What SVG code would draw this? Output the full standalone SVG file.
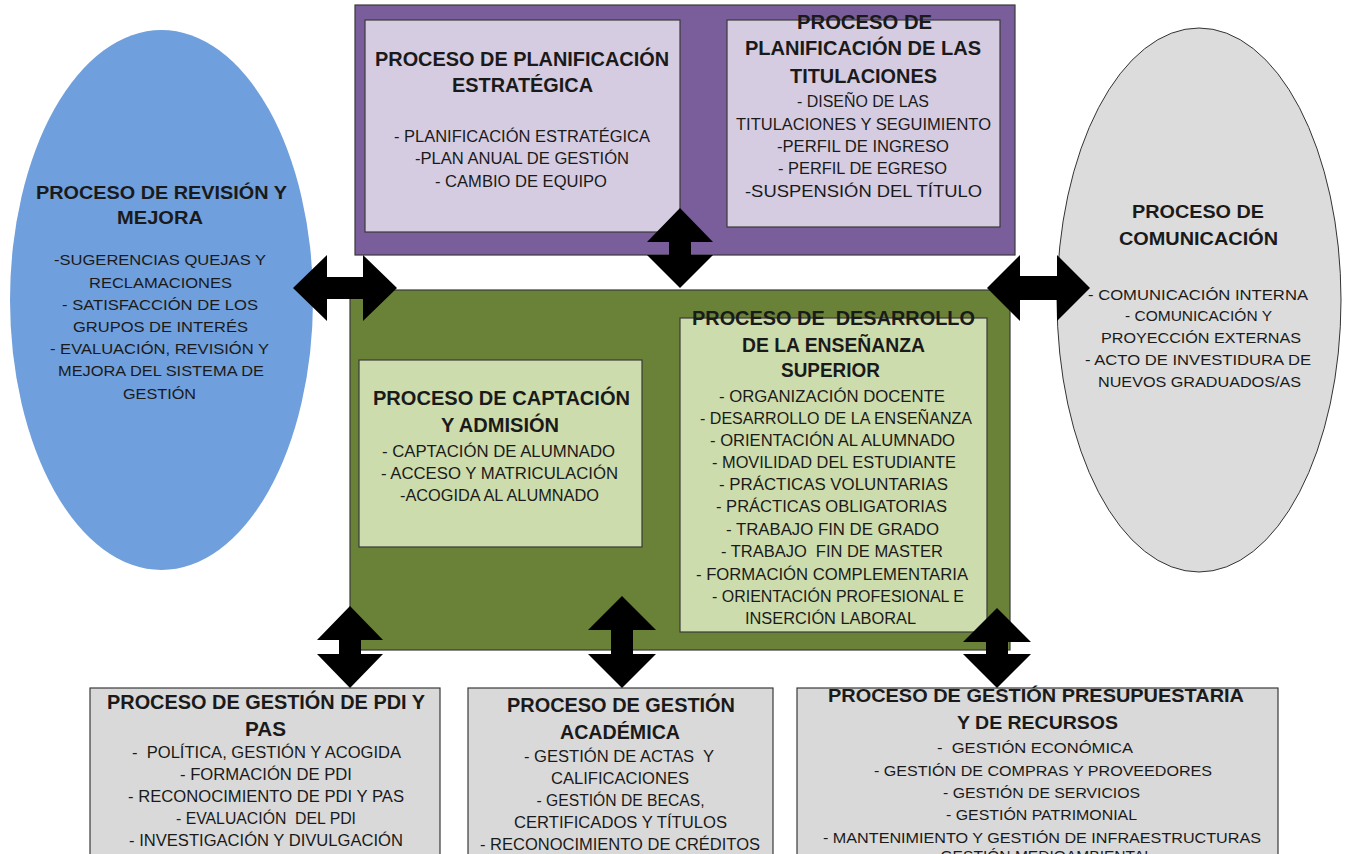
<svg xmlns="http://www.w3.org/2000/svg" width="1345" height="854" viewBox="0 0 1345 854">
<style>
.t{font-family:"Liberation Sans Narrow","Liberation Sans",Arial,sans-serif;fill:#1a1a1a;text-anchor:middle}
.nb{font-size:20px;font-weight:bold}
.nr{font-size:16px}
.ab{font-family:"Liberation Sans",Arial,sans-serif;font-size:18px;font-weight:bold}
.ar{font-family:"Liberation Sans",Arial,sans-serif;font-size:15px}
.box{stroke:#3a3a3a;stroke-width:1.2}
.arrow{fill:#000}
</style>
<rect width="1345" height="854" fill="#ffffff"/>

<g id="revision">
<ellipse cx="161.5" cy="300" rx="151.5" ry="270" fill="#6f9fdc"/>
<text class="t ab" x="161.5" y="198.5" textLength="251" lengthAdjust="spacingAndGlyphs">PROCESO DE REVISIÓN Y</text>
<text class="t ab" x="160" y="223.5" textLength="86" lengthAdjust="spacingAndGlyphs">MEJORA</text>
<text class="t ar" x="160" y="264.5" textLength="212" lengthAdjust="spacingAndGlyphs">-SUGERENCIAS QUEJAS Y</text>
<text class="t ar" x="160.5" y="287.5" textLength="143" lengthAdjust="spacingAndGlyphs">RECLAMACIONES</text>
<text class="t ar" x="160" y="309.5" textLength="196" lengthAdjust="spacingAndGlyphs">- SATISFACCIÓN DE LOS</text>
<text class="t ar" x="160.5" y="331.5" textLength="175" lengthAdjust="spacingAndGlyphs">GRUPOS DE INTERÉS</text>
<text class="t ar" x="159.5" y="353.5" textLength="219" lengthAdjust="spacingAndGlyphs">- EVALUACIÓN, REVISIÓN Y</text>
<text class="t ar" x="161" y="375.5" textLength="206" lengthAdjust="spacingAndGlyphs">MEJORA DEL SISTEMA DE</text>
<text class="t ar" x="159.5" y="398.5" textLength="73" lengthAdjust="spacingAndGlyphs">GESTIÓN</text>
</g>

<g id="comunicacion">
<ellipse cx="1199" cy="300" rx="142" ry="272" fill="#dcdcdc" stroke="#333" stroke-width="1"/>
<text class="t ab" x="1198" y="217.5" textLength="132" lengthAdjust="spacingAndGlyphs">PROCESO DE</text>
<text class="t ab" x="1198.5" y="244.5" textLength="159" lengthAdjust="spacingAndGlyphs">COMUNICACIÓN</text>
<text class="t ar" x="1198" y="299.5" textLength="220" lengthAdjust="spacingAndGlyphs">- COMUNICACIÓN INTERNA</text>
<text class="t ar" x="1198.5" y="320.5" textLength="147" lengthAdjust="spacingAndGlyphs">- COMUNICACIÓN Y</text>
<text class="t ar" x="1201" y="342.5" textLength="200" lengthAdjust="spacingAndGlyphs">PROYECCIÓN EXTERNAS</text>
<text class="t ar" x="1198" y="364.5" textLength="226" lengthAdjust="spacingAndGlyphs">- ACTO DE INVESTIDURA DE</text>
<text class="t ar" x="1199.5" y="386.5" textLength="203" lengthAdjust="spacingAndGlyphs">NUEVOS GRADUADOS/AS</text>
</g>

<g id="estrategicos">
<rect class="box" x="355" y="5" width="660" height="250" fill="#7a5e9b"/>
</g>

<g id="planificacion-estrategica">
<rect class="box" x="365" y="20" width="315" height="212" fill="#d5cce1"/>
<text class="t nb" x="522" y="66" textLength="294" lengthAdjust="spacingAndGlyphs">PROCESO DE PLANIFICACIÓN</text>
<text class="t nb" x="522.5" y="92" textLength="141" lengthAdjust="spacingAndGlyphs">ESTRATÉGICA</text>
<text class="t nr" x="522" y="141.5" textLength="256" lengthAdjust="spacingAndGlyphs">- PLANIFICACIÓN ESTRATÉGICA</text>
<text class="t nr" x="522" y="163.5" textLength="214" lengthAdjust="spacingAndGlyphs">-PLAN ANUAL DE GESTIÓN</text>
<text class="t nr" x="521" y="186.5" textLength="172" lengthAdjust="spacingAndGlyphs">- CAMBIO DE EQUIPO</text>
</g>

<g id="planificacion-titulaciones">
<rect class="box" x="727" y="20" width="273" height="207" fill="#d5cce1"/>
<text class="t nb" x="864.5" y="29" textLength="135" lengthAdjust="spacingAndGlyphs">PROCESO DE</text>
<text class="t nb" x="863" y="55" textLength="236" lengthAdjust="spacingAndGlyphs">PLANIFICACIÓN DE LAS</text>
<text class="t nb" x="863.5" y="83" textLength="147" lengthAdjust="spacingAndGlyphs">TITULACIONES</text>
<text class="t nr" x="863" y="106.5" textLength="132" lengthAdjust="spacingAndGlyphs">- DISEÑO DE LAS</text>
<text class="t nr" x="863.5" y="129.5" textLength="255" lengthAdjust="spacingAndGlyphs">TITULACIONES Y SEGUIMIENTO</text>
<text class="t nr" x="863" y="151.5" textLength="172" lengthAdjust="spacingAndGlyphs">-PERFIL DE INGRESO</text>
<text class="t nr" x="862.5" y="173.5" textLength="169" lengthAdjust="spacingAndGlyphs">- PERFIL DE EGRESO</text>
<text class="t nr" x="863.5" y="197" textLength="237" lengthAdjust="spacingAndGlyphs" style="font-size:17px">-SUSPENSIÓN DEL TÍTULO</text>
</g>

<g id="clave">
<rect class="box" x="350" y="290" width="660" height="360" fill="#6a8238"/>
</g>

<g id="captacion">
<rect class="box" x="359" y="360" width="283" height="187" fill="#cddcac"/>
<text class="t nb" x="501.5" y="405" textLength="257" lengthAdjust="spacingAndGlyphs">PROCESO DE CAPTACIÓN</text>
<text class="t nb" x="500" y="432" textLength="118" lengthAdjust="spacingAndGlyphs">Y ADMISIÓN</text>
<text class="t nr" x="498.5" y="456.5" textLength="233" lengthAdjust="spacingAndGlyphs">- CAPTACIÓN DE ALUMNADO</text>
<text class="t nr" x="499.5" y="478.5" textLength="237" lengthAdjust="spacingAndGlyphs">- ACCESO Y MATRICULACIÓN</text>
<text class="t nr" x="499.5" y="500.5" textLength="199" lengthAdjust="spacingAndGlyphs">-ACOGIDA AL ALUMNADO</text>
</g>

<g id="desarrollo">
<rect class="box" x="680" y="318" width="307" height="314" fill="#cddcac"/>
<text class="t nb" x="833.5" y="325" textLength="283" lengthAdjust="spacingAndGlyphs" xml:space="preserve">PROCESO DE  DESARROLLO</text>
<text class="t nb" x="833.5" y="352" textLength="183" lengthAdjust="spacingAndGlyphs">DE LA ENSEÑANZA</text>
<text class="t nb" x="830.5" y="377" textLength="99" lengthAdjust="spacingAndGlyphs">SUPERIOR</text>
<text class="t nr" x="832" y="401.5" textLength="226" lengthAdjust="spacingAndGlyphs">- ORGANIZACIÓN DOCENTE</text>
<text class="t nr" x="836" y="423.5" textLength="272" lengthAdjust="spacingAndGlyphs">- DESARROLLO DE LA ENSEÑANZA</text>
<text class="t nr" x="832.5" y="445.5" textLength="245" lengthAdjust="spacingAndGlyphs">- ORIENTACIÓN AL ALUMNADO</text>
<text class="t nr" x="834" y="467.5" textLength="244" lengthAdjust="spacingAndGlyphs">- MOVILIDAD DEL ESTUDIANTE</text>
<text class="t nr" x="833.5" y="489.5" textLength="229" lengthAdjust="spacingAndGlyphs">- PRÁCTICAS VOLUNTARIAS</text>
<text class="t nr" x="831.5" y="511.5" textLength="231" lengthAdjust="spacingAndGlyphs">- PRÁCTICAS OBLIGATORIAS</text>
<text class="t nr" x="832.5" y="534.5" textLength="213" lengthAdjust="spacingAndGlyphs">- TRABAJO FIN DE GRADO</text>
<text class="t nr" x="832" y="556.5" textLength="222" lengthAdjust="spacingAndGlyphs" xml:space="preserve">- TRABAJO  FIN DE MASTER</text>
<text class="t nr" x="832" y="579.5" textLength="272" lengthAdjust="spacingAndGlyphs">- FORMACIÓN COMPLEMENTARIA</text>
<text class="t nr" x="838" y="601.5" textLength="252" lengthAdjust="spacingAndGlyphs">- ORIENTACIÓN PROFESIONAL E</text>
<text class="t nr" x="830.5" y="623.5" textLength="171" lengthAdjust="spacingAndGlyphs">INSERCIÓN LABORAL</text>
</g>

<g id="gestion-pdi-pas">
<rect class="box" x="90" y="688" width="350" height="180" fill="#d9d9d9"/>
<text class="t nb" x="266" y="709" textLength="318" lengthAdjust="spacingAndGlyphs">PROCESO DE GESTIÓN DE PDI Y</text>
<text class="t nb" x="265.5" y="736" textLength="41" lengthAdjust="spacingAndGlyphs">PAS</text>
<text class="t nr" x="266.5" y="757.5" textLength="269" lengthAdjust="spacingAndGlyphs" xml:space="preserve">-  POLÍTICA, GESTIÓN Y ACOGIDA</text>
<text class="t nr" x="266" y="779.5" textLength="172" lengthAdjust="spacingAndGlyphs">- FORMACIÓN DE PDI</text>
<text class="t nr" x="266" y="801.5" textLength="276" lengthAdjust="spacingAndGlyphs">- RECONOCIMIENTO DE PDI Y PAS</text>
<text class="t nr" x="266" y="823.5" textLength="180" lengthAdjust="spacingAndGlyphs" xml:space="preserve">- EVALUACIÓN  DEL PDI</text>
<text class="t nr" x="266" y="845.5" textLength="274" lengthAdjust="spacingAndGlyphs">- INVESTIGACIÓN Y DIVULGACIÓN</text>
</g>

<g id="gestion-academica">
<rect class="box" x="468" y="688" width="305" height="180" fill="#d9d9d9"/>
<text class="t nb" x="621" y="712" textLength="228" lengthAdjust="spacingAndGlyphs">PROCESO DE GESTIÓN</text>
<text class="t nb" x="620" y="739" textLength="120" lengthAdjust="spacingAndGlyphs">ACADÉMICA</text>
<text class="t nr" x="619" y="761.5" textLength="190" lengthAdjust="spacingAndGlyphs" xml:space="preserve">- GESTIÓN DE ACTAS  Y</text>
<text class="t nr" x="620" y="783.5" textLength="138" lengthAdjust="spacingAndGlyphs">CALIFICACIONES</text>
<text class="t nr" x="620.5" y="805.5" textLength="168" lengthAdjust="spacingAndGlyphs">- GESTIÓN DE BECAS,</text>
<text class="t nr" x="620.5" y="827.5" textLength="213" lengthAdjust="spacingAndGlyphs">CERTIFICADOS Y TÍTULOS</text>
<text class="t nr" x="620" y="849.5" textLength="280" lengthAdjust="spacingAndGlyphs">- RECONOCIMIENTO DE CRÉDITOS</text>
</g>

<g id="gestion-presupuestaria">
<rect class="box" x="797" y="688" width="481" height="180" fill="#d9d9d9"/>
<text class="t ab" x="1036" y="701.5" textLength="416" lengthAdjust="spacingAndGlyphs">PROCESO DE GESTIÓN PRESUPUESTARIA</text>
<text class="t ab" x="1037.5" y="728.5" textLength="161" lengthAdjust="spacingAndGlyphs">Y DE RECURSOS</text>
<text class="t ar" x="1035" y="752.5" textLength="196" lengthAdjust="spacingAndGlyphs" xml:space="preserve">-  GESTIÓN ECONÓMICA</text>
<text class="t ar" x="1043" y="775.5" textLength="338" lengthAdjust="spacingAndGlyphs">- GESTIÓN DE COMPRAS Y PROVEEDORES</text>
<text class="t ar" x="1041.5" y="797.5" textLength="197" lengthAdjust="spacingAndGlyphs">- GESTIÓN DE SERVICIOS</text>
<text class="t ar" x="1041.5" y="819.5" textLength="191" lengthAdjust="spacingAndGlyphs">- GESTIÓN PATRIMONIAL</text>
<text class="t ar" x="1042" y="842.5" textLength="438" lengthAdjust="spacingAndGlyphs">- MANTENIMIENTO Y GESTIÓN DE INFRAESTRUCTURAS</text>
<text class="t ar" x="1042" y="861" textLength="222" lengthAdjust="spacingAndGlyphs">- GESTIÓN MEDIOAMBIENTAL</text>
</g>

<g id="connectors" class="arrow">
<polygon points="293,288 327,255 327,277 363,277 363,255 397,288 363,321 363,299 327,299 327,321"/>
<polygon points="987,288 1020,255 1020,276 1057,276 1057,255 1090,288 1057,321 1057,300 1020,300 1020,321"/>
<polygon points="680,208 713,242 691,242 691,255 713,255 680,288 647,255 669,255 669,242 647,242"/>
<polygon points="350,606 383,640 361,640 361,654 383,654 350,688 317,654 339,654 339,640 317,640"/>
<polygon points="622,596 656,630 633,630 633,654 656,654 622,688 588,654 611,654 611,630 588,630"/>
<polygon points="997,608 1031,642 1008,642 1008,654 1031,654 997,688 963,654 986,654 986,642 963,642"/>
</g>
</svg>
